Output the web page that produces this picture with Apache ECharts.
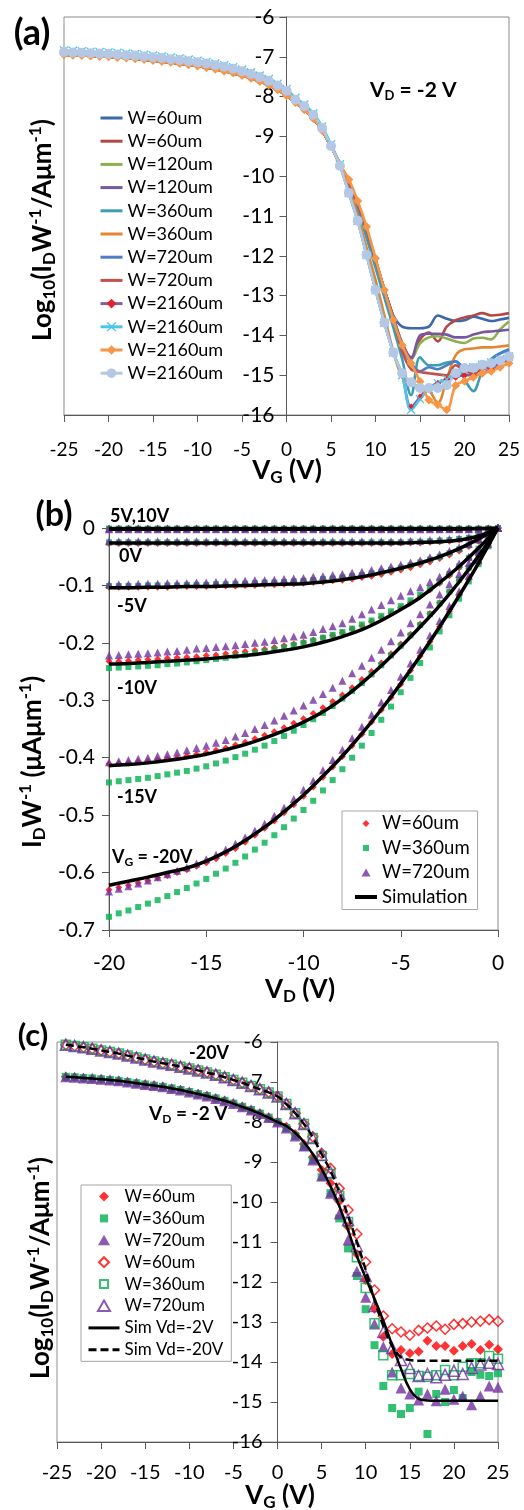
<!DOCTYPE html>
<html>
<head>
<meta charset="utf-8">
<title>Transfer and output curves</title>
<script src="https://cdn.jsdelivr.net/npm/echarts@6.0.0/dist/echarts.min.js"></script>
<style>
  html, body { margin: 0; padding: 0; background: #fff; }
  #chart { width: 524px; height: 1510px; }
</style>
</head>
<body>
<div id="chart"></div>
<script>
const FONT = 'Lato, "Open Sans", "DejaVu Sans", sans-serif';

// ---------- (a) log10(Id/W) vs Vg at Vd = -2 V ----------
const vgA = [-25,-24,-23,-22,-21,-20,-19,-18,-17,-16,-15,-14,-13,-12,-11,-10,-9,-8,-7,-6,-5,-4,-3,-2,-1,0,1,2,3,4,5,6,7,8,9,10,11,12,13,14,15,16,17,18,19,20,21,22,23,24,25];
// VG -25..6
const headLineA = [-6.95,-6.96,-6.97,-6.98,-6.99,-7.00,-7.02,-7.03,-7.05,-7.07,-7.09,-7.12,-7.14,-7.17,-7.20,-7.23,-7.27,-7.31,-7.36,-7.41,-7.47,-7.54,-7.62,-7.71,-7.83,-7.97,-8.15,-8.33,-8.55,-8.85,-9.25,-9.70];
const headDotA  = [-6.88,-6.89,-6.90,-6.91,-6.92,-6.93,-6.94,-6.96,-6.97,-6.99,-7.01,-7.03,-7.06,-7.08,-7.11,-7.14,-7.17,-7.21,-7.25,-7.30,-7.36,-7.43,-7.51,-7.60,-7.72,-7.85,-8.08,-8.24,-8.46,-8.79,-9.24,-9.74];
const headXA    = [-6.84,-6.85,-6.86,-6.87,-6.88,-6.89,-6.90,-6.92,-6.93,-6.95,-6.97,-6.99,-7.02,-7.04,-7.07,-7.10,-7.13,-7.17,-7.21,-7.26,-7.32,-7.39,-7.47,-7.56,-7.68,-7.81,-8.03,-8.20,-8.42,-8.75,-9.20,-9.70];
// VG 7..25
const tailBlue60    = [-10.15,-10.70,-11.35,-12.10,-12.85,-13.50,-13.78,-13.82,-13.82,-13.78,-13.50,-13.58,-13.64,-13.62,-13.53,-13.58,-13.64,-13.60,-13.56];
const tailRed60     = [-10.15,-10.70,-11.35,-12.10,-12.85,-13.55,-14.20,-14.55,-14.10,-13.93,-14.15,-13.78,-13.62,-13.55,-13.50,-13.44,-13.50,-13.48,-13.44];
const tailGreen120  = [-10.15,-10.70,-11.35,-12.10,-12.85,-13.55,-14.20,-14.60,-14.20,-14.05,-14.02,-14.08,-14.15,-14.19,-14.08,-14.06,-14.10,-13.85,-13.65];
const tailPurple120 = [-10.15,-10.70,-11.35,-12.10,-12.85,-13.55,-14.20,-14.57,-14.00,-13.96,-13.96,-13.98,-14.05,-14.05,-13.98,-13.92,-13.90,-13.88,-13.86];
const tailTeal360   = [-10.25,-10.85,-11.55,-12.30,-13.05,-13.80,-14.60,-15.50,-14.55,-14.75,-14.75,-14.68,-14.66,-15.10,-15.40,-14.90,-14.60,-14.45,-14.40];
const tailOrange360 = [-10.30,-11.00,-11.80,-12.60,-13.50,-14.40,-15.05,-15.20,-15.30,-15.38,-15.70,-15.10,-14.50,-14.35,-14.33,-14.30,-14.30,-14.28,-14.25];
const tailBlue720   = [-10.15,-10.70,-11.35,-12.10,-12.85,-13.55,-14.30,-14.70,-14.90,-14.80,-14.85,-14.75,-14.65,-14.80,-14.75,-14.85,-14.60,-14.45,-14.35];
const tailRed720    = [-10.15,-10.70,-11.35,-12.10,-12.85,-13.55,-14.40,-14.85,-14.92,-14.95,-14.98,-15.00,-14.75,-14.90,-14.95,-14.85,-14.80,-14.70,-14.60];
const tailPurple2160 = [-10.42,-11.12,-11.98,-12.86,-13.68,-14.43,-15.00,-15.80,-15.55,-15.30,-15.20,-15.10,-15.05,-15.00,-15.00,-14.95,-14.85,-14.70,-14.60];
const tailCyan2160   = [-10.42,-11.12,-11.98,-12.86,-13.68,-14.43,-15.00,-15.87,-15.60,-15.35,-15.20,-15.10,-14.95,-14.87,-14.80,-14.74,-14.68,-14.60,-14.53];
const tailOrange2160 = [-10.08,-10.62,-11.27,-12.06,-12.86,-13.61,-14.25,-14.70,-15.16,-15.62,-15.74,-15.87,-15.26,-15.15,-15.05,-14.95,-14.90,-14.80,-14.70];
const tailLblue2160  = [-10.42,-11.12,-11.98,-12.86,-13.68,-14.43,-14.95,-15.18,-15.32,-15.32,-15.32,-15.25,-14.95,-14.82,-14.82,-14.74,-14.70,-14.63,-14.53];

// ---------- (b) Id/W vs Vd ----------
const vdB = [-20,-19.5,-19,-18.5,-18,-17.5,-17,-16.5,-16,-15.5,-15,-14.5,-14,-13.5,-13,-12.5,-12,-11.5,-11,-10.5,-10,-9.5,-9,-8.5,-8,-7.5,-7,-6.5,-6,-5.5,-5,-4.5,-4,-3.5,-3,-2.5,-2,-1.5,-1,-0.5,0];
const vdSimB = [-20,-19,-18,-17,-16,-15,-14,-13,-12,-11,-10,-9,-8,-7,-6,-5,-4,-3,-2,-1,0];

const simB10  = [-0.001,-0.001,-0.001,-0.001,-0.001,-0.001,-0.001,-0.001,-0.001,-0.001,-0.001,-0.001,-0.001,-0.001,-0.001,-0.001,-0.001,-0.001,-0.001,-0.001,0];
const simB5   = [-0.002,-0.002,-0.002,-0.002,-0.002,-0.002,-0.002,-0.002,-0.002,-0.002,-0.002,-0.002,-0.002,-0.002,-0.002,-0.002,-0.002,-0.002,-0.002,-0.001,0];
const simB0   = [-0.026,-0.026,-0.026,-0.026,-0.026,-0.026,-0.026,-0.026,-0.026,-0.026,-0.026,-0.026,-0.026,-0.026,-0.026,-0.026,-0.025,-0.024,-0.021,-0.014,0];
const simBm5  = [-0.104,-0.104,-0.103,-0.103,-0.102,-0.102,-0.101,-0.100,-0.099,-0.098,-0.097,-0.094,-0.090,-0.085,-0.078,-0.070,-0.061,-0.050,-0.036,-0.019,0];
const simBm10 = [-0.237,-0.236,-0.234,-0.232,-0.230,-0.228,-0.225,-0.222,-0.218,-0.213,-0.207,-0.199,-0.189,-0.177,-0.161,-0.142,-0.121,-0.095,-0.067,-0.035,0];
const simBm15 = [-0.414,-0.412,-0.409,-0.405,-0.400,-0.394,-0.386,-0.377,-0.366,-0.353,-0.338,-0.320,-0.297,-0.270,-0.240,-0.207,-0.172,-0.135,-0.094,-0.049,0];
const simBm20 = [-0.622,-0.615,-0.608,-0.600,-0.592,-0.580,-0.564,-0.544,-0.521,-0.494,-0.465,-0.432,-0.397,-0.358,-0.316,-0.271,-0.223,-0.172,-0.118,-0.061,0];

const flatB10 = [-0.001,-0.001,-0.001,-0.001,-0.001,-0.001,-0.001,-0.001,-0.001,-0.001,-0.001,-0.001,-0.001,-0.001,-0.001,-0.001,-0.001,-0.001,-0.001,-0.001,-0.001,-0.001,-0.001,-0.001,-0.001,-0.001,-0.001,-0.001,-0.001,-0.001,-0.001,-0.001,-0.001,-0.001,-0.001,-0.001,-0.001,-0.001,-0.001,-0.001,0];
const flatB5  = [-0.002,-0.002,-0.002,-0.002,-0.002,-0.002,-0.002,-0.002,-0.002,-0.002,-0.002,-0.002,-0.002,-0.002,-0.002,-0.002,-0.002,-0.002,-0.002,-0.002,-0.002,-0.002,-0.002,-0.002,-0.002,-0.002,-0.002,-0.002,-0.002,-0.002,-0.002,-0.002,-0.002,-0.002,-0.002,-0.002,-0.002,-0.002,-0.002,-0.001,0];

const redB0 = [-0.027,-0.027,-0.027,-0.027,-0.027,-0.027,-0.027,-0.027,-0.027,-0.027,-0.027,-0.027,-0.027,-0.027,-0.027,-0.027,-0.027,-0.027,-0.027,-0.027,-0.027,-0.027,-0.027,-0.027,-0.027,-0.027,-0.027,-0.027,-0.027,-0.027,-0.026,-0.026,-0.026,-0.025,-0.024,-0.023,-0.021,-0.019,-0.015,-0.009,0];
const greenB0 = [-0.025,-0.025,-0.025,-0.025,-0.025,-0.025,-0.025,-0.025,-0.025,-0.025,-0.025,-0.025,-0.025,-0.025,-0.025,-0.025,-0.025,-0.025,-0.025,-0.025,-0.025,-0.025,-0.025,-0.025,-0.025,-0.025,-0.025,-0.025,-0.025,-0.025,-0.025,-0.024,-0.024,-0.023,-0.022,-0.021,-0.019,-0.017,-0.014,-0.008,0];
const purpleB0 = [-0.023,-0.023,-0.023,-0.023,-0.023,-0.023,-0.023,-0.023,-0.023,-0.023,-0.023,-0.023,-0.023,-0.023,-0.023,-0.023,-0.023,-0.023,-0.023,-0.023,-0.023,-0.023,-0.023,-0.023,-0.023,-0.023,-0.023,-0.023,-0.023,-0.023,-0.023,-0.022,-0.022,-0.021,-0.020,-0.019,-0.018,-0.016,-0.013,-0.008,0];

const redBm5 = [-0.103,-0.103,-0.103,-0.103,-0.103,-0.103,-0.103,-0.102,-0.102,-0.102,-0.102,-0.101,-0.101,-0.101,-0.100,-0.100,-0.099,-0.099,-0.098,-0.097,-0.096,-0.095,-0.094,-0.092,-0.091,-0.089,-0.086,-0.084,-0.081,-0.077,-0.073,-0.069,-0.064,-0.059,-0.053,-0.047,-0.040,-0.032,-0.023,-0.013,0];
const greenBm5 = [-0.101,-0.101,-0.101,-0.101,-0.100,-0.100,-0.100,-0.100,-0.099,-0.099,-0.099,-0.098,-0.098,-0.097,-0.097,-0.096,-0.095,-0.095,-0.094,-0.093,-0.092,-0.091,-0.089,-0.088,-0.086,-0.084,-0.082,-0.079,-0.076,-0.073,-0.069,-0.065,-0.060,-0.055,-0.050,-0.044,-0.037,-0.030,-0.021,-0.012,0];
const purpleBm5 = [-0.098,-0.098,-0.098,-0.097,-0.097,-0.097,-0.096,-0.096,-0.096,-0.095,-0.095,-0.094,-0.094,-0.093,-0.092,-0.091,-0.091,-0.090,-0.089,-0.088,-0.087,-0.085,-0.084,-0.082,-0.080,-0.078,-0.076,-0.073,-0.070,-0.067,-0.064,-0.060,-0.056,-0.051,-0.046,-0.040,-0.034,-0.028,-0.020,-0.012,0];

const redBm10 = [-0.232,-0.232,-0.231,-0.230,-0.229,-0.228,-0.227,-0.226,-0.225,-0.224,-0.222,-0.221,-0.219,-0.217,-0.215,-0.213,-0.211,-0.208,-0.205,-0.202,-0.199,-0.195,-0.191,-0.187,-0.182,-0.176,-0.170,-0.163,-0.156,-0.148,-0.139,-0.130,-0.119,-0.108,-0.096,-0.083,-0.069,-0.054,-0.038,-0.020,0];
const greenBm10 = [-0.244,-0.243,-0.242,-0.241,-0.240,-0.239,-0.237,-0.236,-0.234,-0.232,-0.230,-0.228,-0.226,-0.223,-0.221,-0.218,-0.215,-0.212,-0.208,-0.204,-0.200,-0.196,-0.191,-0.186,-0.181,-0.175,-0.168,-0.161,-0.153,-0.145,-0.136,-0.126,-0.116,-0.105,-0.093,-0.080,-0.067,-0.052,-0.036,-0.019,0];
const purpleBm10 = [-0.222,-0.221,-0.220,-0.219,-0.218,-0.217,-0.215,-0.214,-0.212,-0.210,-0.209,-0.207,-0.206,-0.204,-0.202,-0.200,-0.198,-0.195,-0.192,-0.189,-0.186,-0.181,-0.176,-0.171,-0.166,-0.158,-0.150,-0.142,-0.134,-0.126,-0.118,-0.110,-0.103,-0.094,-0.085,-0.075,-0.062,-0.050,-0.036,-0.019,0];

const redBm15 = [-0.411,-0.410,-0.409,-0.407,-0.406,-0.404,-0.402,-0.400,-0.397,-0.394,-0.391,-0.387,-0.383,-0.378,-0.373,-0.367,-0.361,-0.355,-0.348,-0.340,-0.332,-0.323,-0.313,-0.302,-0.291,-0.278,-0.264,-0.250,-0.235,-0.219,-0.202,-0.185,-0.167,-0.149,-0.130,-0.111,-0.091,-0.070,-0.048,-0.025,0];
const greenBm15 = [-0.443,-0.441,-0.439,-0.437,-0.435,-0.432,-0.429,-0.426,-0.423,-0.419,-0.415,-0.410,-0.405,-0.399,-0.393,-0.386,-0.379,-0.371,-0.362,-0.353,-0.343,-0.333,-0.322,-0.310,-0.297,-0.284,-0.270,-0.255,-0.239,-0.222,-0.205,-0.187,-0.169,-0.150,-0.131,-0.111,-0.090,-0.069,-0.047,-0.024,0];
const purpleBm15 = [-0.408,-0.406,-0.404,-0.402,-0.400,-0.397,-0.394,-0.391,-0.387,-0.383,-0.379,-0.374,-0.369,-0.363,-0.357,-0.350,-0.343,-0.335,-0.327,-0.318,-0.309,-0.299,-0.289,-0.278,-0.266,-0.253,-0.240,-0.226,-0.212,-0.197,-0.182,-0.166,-0.150,-0.133,-0.116,-0.098,-0.080,-0.061,-0.041,-0.021,0];

const redBm20 = [-0.630,-0.626,-0.622,-0.618,-0.614,-0.609,-0.605,-0.600,-0.595,-0.589,-0.583,-0.576,-0.567,-0.558,-0.547,-0.535,-0.523,-0.510,-0.496,-0.482,-0.467,-0.451,-0.434,-0.416,-0.398,-0.379,-0.359,-0.338,-0.317,-0.295,-0.272,-0.248,-0.223,-0.198,-0.172,-0.145,-0.117,-0.089,-0.060,-0.030,0];
const greenBm20 = [-0.677,-0.671,-0.666,-0.660,-0.654,-0.648,-0.641,-0.634,-0.627,-0.619,-0.611,-0.602,-0.593,-0.583,-0.572,-0.560,-0.548,-0.535,-0.521,-0.506,-0.491,-0.475,-0.457,-0.439,-0.420,-0.400,-0.379,-0.357,-0.334,-0.311,-0.286,-0.261,-0.235,-0.208,-0.180,-0.152,-0.123,-0.093,-0.063,-0.032,0];
const purpleBm20 = [-0.633,-0.628,-0.624,-0.619,-0.614,-0.608,-0.603,-0.597,-0.591,-0.584,-0.577,-0.569,-0.560,-0.550,-0.539,-0.527,-0.515,-0.501,-0.487,-0.472,-0.456,-0.440,-0.422,-0.404,-0.386,-0.366,-0.346,-0.325,-0.304,-0.282,-0.259,-0.236,-0.212,-0.187,-0.162,-0.136,-0.110,-0.083,-0.056,-0.028,0];

// ---------- (c) log10(Id/W) vs Vg, Vd = -2 V and -20 V ----------
const vgC = [-24,-23,-22,-21,-20,-19,-18,-17,-16,-15,-14,-13,-12,-11,-10,-9,-8,-7,-6,-5,-4,-3,-2,-1,0,1,2,3,4,5,6,7,8,9,10,11,12,13,14,15,16,17,18,19,20,21,22,23,24,25];
// VG -24..0
const headC2  = [-6.87,-6.88,-6.90,-6.91,-6.93,-6.95,-6.97,-7.00,-7.03,-7.06,-7.09,-7.12,-7.16,-7.20,-7.25,-7.30,-7.35,-7.41,-7.47,-7.54,-7.62,-7.70,-7.79,-7.89,-8.00];
const headC20 = [-6.07,-6.10,-6.13,-6.17,-6.21,-6.25,-6.29,-6.34,-6.39,-6.44,-6.49,-6.53,-6.57,-6.62,-6.66,-6.71,-6.76,-6.82,-6.88,-6.95,-7.02,-7.10,-7.18,-7.26,-7.36];
// VG 1..25
const redFillC    = [-8.12,-8.30,-8.55,-8.88,-9.20,-9.53,-9.99,-10.62,-11.30,-11.95,-12.67,-13.37,-13.80,-13.70,-13.78,-13.74,-13.47,-13.60,-13.60,-13.72,-13.60,-13.55,-13.70,-13.57,-13.68];
const greenFillC  = [-8.15,-8.35,-8.62,-8.95,-9.38,-9.78,-10.41,-11.16,-11.85,-12.68,-13.58,-14.60,-15.15,-15.30,-15.15,-14.74,-15.80,-14.80,-15.00,-14.70,-14.90,-14.25,-14.32,-14.35,-14.28];
const purpleFillC = [-8.15,-8.35,-8.60,-8.95,-9.35,-9.78,-10.30,-10.95,-11.73,-12.38,-13.05,-13.62,-14.25,-14.65,-14.80,-14.95,-14.80,-14.97,-14.68,-14.93,-14.85,-15.07,-14.85,-14.60,-14.63];
const redHollowC    = [-7.55,-7.78,-8.05,-8.37,-8.78,-9.16,-9.66,-10.20,-10.80,-11.50,-12.20,-12.85,-13.17,-13.25,-13.33,-13.21,-13.15,-13.10,-13.18,-13.06,-13.04,-13.00,-12.98,-12.94,-12.98];
const greenHollowC  = [-7.55,-7.78,-8.05,-8.40,-8.85,-9.30,-9.85,-10.50,-11.38,-12.15,-13.03,-13.83,-14.33,-14.33,-14.30,-14.35,-14.37,-14.33,-14.20,-14.33,-14.12,-14.03,-14.03,-13.85,-13.92];
const purpleHollowC = [-7.55,-7.78,-8.05,-8.40,-8.82,-9.25,-9.80,-10.45,-11.10,-11.85,-12.60,-13.25,-13.65,-13.95,-14.15,-14.35,-14.30,-14.38,-14.32,-14.22,-14.30,-14.15,-14.06,-14.02,-14.05];
const simC2  = [-8.10,-8.27,-8.50,-8.80,-9.17,-9.60,-10.10,-10.70,-11.35,-11.90,-12.42,-12.97,-13.58,-14.17,-14.68,-14.92,-14.96,-14.97,-14.97,-14.97,-14.97,-14.97,-14.97,-14.97,-14.97];
const simC20 = [-7.55,-7.78,-8.05,-8.38,-8.80,-9.22,-9.75,-10.35,-11.00,-11.70,-12.45,-13.10,-13.60,-13.88,-13.95,-13.97,-13.97,-13.97,-13.97,-13.97,-13.97,-13.97,-13.97,-13.97,-13.97];

const legendText = {
  a1: 'W=60um', a2: 'W=60um', a3: 'W=120um', a4: 'W=120um', a5: 'W=360um', a6: 'W=360um',
  a7: 'W=720um', a8: 'W=720um', a9: 'W=2160um', a10: 'W=2160um', a11: 'W=2160um', a12: 'W=2160um',
  b60: 'W=60um', b360: 'W=360um', b720: 'W=720um', bsim: 'Simulation',
  c60f: 'W=60um', c360f: 'W=360um', c720f: 'W=720um', c60h: 'W=60um', c360h: 'W=360um', c720h: 'W=720um',
  csim2: 'Sim Vd=-2V', csim20: 'Sim Vd=-20V'
};

const pairs = (xs, ys) => xs.map((x, i) => [x, ys[i]]);
const XMARK = 'path://M0,1L1,0L5,4L9,0L10,1L6,5L10,9L9,10L5,6L1,10L0,9L4,5Z';

const aDefs = [
  { name: 'a1',  line: '#3C67A8', head: headLineA, tail: tailBlue60 },
  { name: 'a2',  line: '#B34845', head: headLineA, tail: tailRed60 },
  { name: 'a3',  line: '#8DB04F', head: headLineA, tail: tailGreen120 },
  { name: 'a4',  line: '#7658A0', head: headLineA, tail: tailPurple120 },
  { name: 'a5',  line: '#3C9DB5', head: headLineA, tail: tailTeal360 },
  { name: 'a6',  line: '#E3862F', head: headLineA, tail: tailOrange360 },
  { name: 'a7',  line: '#4A7EC5', head: headLineA, tail: tailBlue720 },
  { name: 'a8',  line: '#C4504C', head: headLineA, tail: tailRed720 },
  { name: 'a9',  line: '#7F5FA5', head: headDotA, tail: tailPurple2160, symbol: 'diamond', size: 7, mark: '#E8202A' },
  { name: 'a10', line: '#4BC6E8', head: headXA, tail: tailCyan2160, symbol: XMARK, size: 9, mark: '#4BC6E8' },
  { name: 'a11', line: '#F79646', head: headLineA, tail: tailOrange2160, symbol: 'diamond', size: 9, mark: '#F79646' },
  { name: 'a12', line: '#B4C8E6', head: headDotA, tail: tailLblue2160, symbol: 'circle', size: 10, mark: '#B4C8E6' }
];

const seriesA = aDefs.map(d => ({
  type: 'line', name: d.name, xAxisIndex: 0, yAxisIndex: 0,
  data: pairs(vgA, d.head.concat(d.tail)),
  smooth: 0.35,
  symbol: d.symbol || 'none', symbolSize: d.size || 0,
  lineStyle: { color: d.line, width: 2.6 },
  itemStyle: { color: d.mark || d.line }
}));

const bGroups = [
  { sim: simB10,  r: flatB10, g: flatB10,  p: flatB10 },
  { sim: simB5,   r: flatB5,  g: flatB5,   p: flatB5 },
  { sim: simB0,   r: redB0,   g: greenB0,  p: purpleB0 },
  { sim: simBm5,  r: redBm5,  g: greenBm5, p: purpleBm5 },
  { sim: simBm10, r: redBm10, g: greenBm10, p: purpleBm10 },
  { sim: simBm15, r: redBm15, g: greenBm15, p: purpleBm15 },
  { sim: simBm20, r: redBm20, g: greenBm20, p: purpleBm20 }
];
const seriesB = bGroups.map(g => ({
  type: 'line', name: 'bsim', xAxisIndex: 1, yAxisIndex: 1,
  data: pairs(vdSimB, g.sim), smooth: 0.4, symbol: 'none',
  lineStyle: { color: '#000', width: 3.5 }, itemStyle: { color: '#000' }
})).concat([
  { type: 'scatter', name: 'b60', xAxisIndex: 1, yAxisIndex: 1, symbol: 'diamond', symbolSize: 7,
    itemStyle: { color: '#FF0000' }, data: bGroups.flatMap(g => pairs(vdB, g.r)) },
  { type: 'scatter', name: 'b360', xAxisIndex: 1, yAxisIndex: 1, symbol: 'rect', symbolSize: 6,
    itemStyle: { color: '#00B050' }, data: bGroups.flatMap(g => pairs(vdB, g.g)) },
  { type: 'scatter', name: 'b720', xAxisIndex: 1, yAxisIndex: 1, symbol: 'triangle', symbolSize: 8,
    itemStyle: { color: '#7030A0' }, data: bGroups.flatMap(g => pairs(vdB, g.p)) }
]);

const CLEAR = 'rgba(255,255,255,0)';
const seriesC = [
  { type: 'line', name: 'csim2', xAxisIndex: 2, yAxisIndex: 2, data: pairs(vgC, headC2.concat(simC2)),
    smooth: 0.4, symbol: 'none', lineStyle: { color: '#000', width: 2.5 }, itemStyle: { color: '#000' } },
  { type: 'line', name: 'csim20', xAxisIndex: 2, yAxisIndex: 2, data: pairs(vgC, headC20.concat(simC20)),
    smooth: 0.4, symbol: 'none', lineStyle: { color: '#000', width: 2.5, type: [8, 4] }, itemStyle: { color: '#000' } },
  { type: 'scatter', name: 'c60f', xAxisIndex: 2, yAxisIndex: 2, symbol: 'diamond', symbolSize: 10,
    itemStyle: { color: '#FF0000' }, data: pairs(vgC, headC2.concat(redFillC)) },
  { type: 'scatter', name: 'c360f', xAxisIndex: 2, yAxisIndex: 2, symbol: 'rect', symbolSize: 8,
    itemStyle: { color: '#00B050' }, data: pairs(vgC, headC2.concat(greenFillC)) },
  { type: 'scatter', name: 'c720f', xAxisIndex: 2, yAxisIndex: 2, symbol: 'triangle', symbolSize: 11,
    itemStyle: { color: '#7030A0' }, data: pairs(vgC, headC2.concat(purpleFillC)) },
  { type: 'scatter', name: 'c60h', xAxisIndex: 2, yAxisIndex: 2, symbol: 'diamond', symbolSize: 10,
    itemStyle: { color: CLEAR, borderColor: '#FF0000', borderWidth: 1.5 }, data: pairs(vgC, headC20.concat(redHollowC)) },
  { type: 'scatter', name: 'c360h', xAxisIndex: 2, yAxisIndex: 2, symbol: 'rect', symbolSize: 9,
    itemStyle: { color: CLEAR, borderColor: '#00B050', borderWidth: 1.5 }, data: pairs(vgC, headC20.concat(greenHollowC)) },
  { type: 'scatter', name: 'c720h', xAxisIndex: 2, yAxisIndex: 2, symbol: 'triangle', symbolSize: 11,
    itemStyle: { color: CLEAR, borderColor: '#7030A0', borderWidth: 1.5 }, data: pairs(vgC, headC20.concat(purpleHollowC)) }
];

const AX = '#595959';
function xAx(grid, min, max, step, size, margin) {
  return {
    gridIndex: grid, type: 'value', min: min, max: max, interval: step,
    axisLine: { onZero: false, lineStyle: { color: AX, width: 1 } },
    axisTick: { show: true, length: 7, lineStyle: { color: AX } },
    axisLabel: { color: '#000', fontFamily: FONT, fontSize: size, margin: margin, showMinLabel: true, showMaxLabel: true },
    splitLine: { show: false }
  };
}
// offset shifts a left axis to the right so it sits on VG = 0
function yAx(grid, min, max, step, size, margin, offset, fmt) {
  return {
    gridIndex: grid, type: 'value', min: min, max: max, interval: step, position: 'left', offset: offset,
    axisLine: { show: true, onZero: false, lineStyle: { color: AX, width: 1 } },
    axisTick: { show: true, length: 7, lineStyle: { color: AX } },
    axisLabel: { color: '#000', fontFamily: FONT, fontSize: size, margin: margin, formatter: fmt, showMinLabel: true, showMaxLabel: true },
    splitLine: { show: false }
  };
}
const frame = { show: true, borderColor: '#8c8c8c', borderWidth: 1, outerBoundsMode: 'none' };

function richSet(main, sub) {
  return {
    a: { fontFamily: FONT, fontSize: main, fontWeight: 'bold', lineHeight: Math.round(main * 1.2), fill: '#000' },
    s: { fontFamily: FONT, fontSize: sub, fontWeight: 'bold', fill: '#000', verticalAlign: 'bottom' },
    p: { fontFamily: FONT, fontSize: sub, fontWeight: 'bold', fill: '#000', verticalAlign: 'top' }
  };
}
function rtext(x, y, text, main, sub, align, rot) {
  return { type: 'text', x: x, y: y, rotation: rot || 0, z: 100,
    style: { text: text, rich: richSet(main, sub), align: align || 'left', verticalAlign: 'middle' } };
}
function ptext(x, y, text, size, align) {
  return { type: 'text', x: x, y: y, z: 100,
    style: { text: text, fontFamily: FONT, fontSize: size, fontWeight: 'bold', fill: '#000', align: align || 'left', verticalAlign: 'middle' } };
}

// legend icons: shapes drawn inside a box the size of the legend item, so they keep their proportions
const lineOnly = { itemStyle: { opacity: 0 } };
const iconB = {
  diamond: 'path://M0,0M22,9M11,1L14.5,4.5L11,8L7.5,4.5Z',
  rect: 'path://M0,0M22,9M8,1.5H14V7.5H8Z',
  triangle: 'path://M0,0M22,9M11,0.5L15.5,8.5H6.5Z'
};
const iconC = {
  diamond: 'path://M0,0M31,11M15.5,0.5L20.5,5.5L15.5,10.5L10.5,5.5Z',
  rect: 'path://M0,0M31,11M11.5,1.5H19.5V9.5H11.5Z',
  triangle: 'path://M0,0M31,11M15.5,0L21.5,10.5H9.5Z'
};

const legendBase = {
  orient: 'vertical', selectedMode: false,
  formatter: n => legendText[n]
};

const chart = echarts.init(document.getElementById('chart'), null, { renderer: 'canvas' });
chart.setOption({
  animation: false,
  backgroundColor: '#fff',
  textStyle: { fontFamily: FONT },
  grid: [
    Object.assign({ left: 64, top: 17, width: 445, height: 398 }, frame),
    Object.assign({ left: 109, top: 528, width: 389, height: 402 }, frame),
    Object.assign({ left: 57, top: 1042, width: 441, height: 400 }, frame)
  ],
  xAxis: [
    xAx(0, -25, 25, 5, 19, 25),
    xAx(1, -20, 0, 5, 21, 23),
    xAx(2, -25, 25, 5, 20, 21)
  ],
  yAxis: [
    yAx(0, -16, -6, 1, 21, 12, -222.5),
    yAx(1, -0.7, 0, 0.1, 21, 14, 0, v => (Math.abs(v) < 1e-9 ? '0' : v.toFixed(1))),
    yAx(2, -16, -6, 1, 20, 15, -220.5)
  ],
  legend: [
    Object.assign({}, legendBase, {
      data: ['a1','a2','a3','a4','a5','a6','a7','a8'].map(n => Object.assign({ name: n }, lineOnly))
        .concat(['a9','a10','a11','a12'].map(n => ({ name: n }))),
      left: 99, top: 109, padding: 0, itemWidth: 22, itemHeight: 12, itemGap: 5.2,
      lineStyle: { width: 3 },
      textStyle: { color: '#000', fontFamily: FONT, fontSize: 18 }
    }),
    Object.assign({}, legendBase, {
      data: [
        { name: 'b60', icon: iconB.diamond },
        { name: 'b360', icon: iconB.rect },
        { name: 'b720', icon: iconB.triangle },
        Object.assign({ name: 'bsim' }, lineOnly)
      ],
      left: 342, top: 811, padding: [3, 8, 3, 11], itemWidth: 22, itemHeight: 9, itemGap: 5.5,
      lineStyle: { width: 4 },
      borderColor: '#a6a6a6', borderWidth: 1, backgroundColor: '#fff',
      textStyle: { color: '#000', fontFamily: FONT, fontSize: 18.5 }
    }),
    Object.assign({}, legendBase, {
      data: [
        { name: 'c60f', icon: iconC.diamond },
        { name: 'c360f', icon: iconC.rect },
        { name: 'c720f', icon: iconC.triangle },
        { name: 'c60h', icon: iconC.diamond },
        { name: 'c360h', icon: iconC.rect },
        { name: 'c720h', icon: iconC.triangle },
        Object.assign({ name: 'csim2' }, lineOnly),
        Object.assign({ name: 'csim20' }, lineOnly)
      ],
      left: 81, top: 1185, padding: [3, 8, 3, 6], itemWidth: 31, itemHeight: 11, itemGap: 4.9,
      lineStyle: { width: 3 },
      borderColor: '#a6a6a6', borderWidth: 1, backgroundColor: '#fff',
      textStyle: { color: '#000', fontFamily: FONT, fontSize: 17 }
    })
  ],
  series: seriesA.concat(seriesB, seriesC),
  graphic: [
    ptext(32, 33, '(a)', 36, 'center'),
    ptext(54, 515, '(b)', 34, 'center'),
    ptext(33, 1036, '(c)', 31, 'center'),
    rtext(370, 90, '{a|V}{s|D}{a| = -2 V}', 21, 13),
    rtext(287, 471, '{a|V}{s|G}{a| (V)}', 26, 17, 'center'),
    rtext(43, 230, '{a|Log}{s|10}{a|(I}{s|D}{a|W}{p|-1}{a|/Aμm}{p|-1}{a|)}', 26, 17, 'center', Math.PI / 2),
    ptext(110, 516, '5V,10V', 18),
    ptext(119, 556, '0V', 18),
    ptext(117, 606, '-5V', 18),
    ptext(117, 688, '-10V', 18),
    ptext(117, 797, '-15V', 18),
    rtext(112, 857, '{a|V}{s|G}{a| = -20V}', 18, 12),
    rtext(300, 990, '{a|V}{s|D}{a| (V)}', 26, 17, 'center'),
    rtext(33, 762, '{a|I}{s|D}{a|W}{p|-1}{a| (μAμm}{p|-1}{a|)}', 26, 17, 'center', Math.PI / 2),
    ptext(189, 1053, '-20V', 18),
    rtext(149, 1114, '{a|V}{s|D}{a| = -2 V}', 19, 12),
    rtext(280, 1496, '{a|V}{s|G}{a| (V)}', 26, 17, 'center'),
    rtext(41, 1268, '{a|Log}{s|10}{a|(I}{s|D}{a|W}{p|-1}{a|/Aμm}{p|-1}{a|)}', 26, 17, 'center', Math.PI / 2)
  ]
});
</script>
</body>
</html>
